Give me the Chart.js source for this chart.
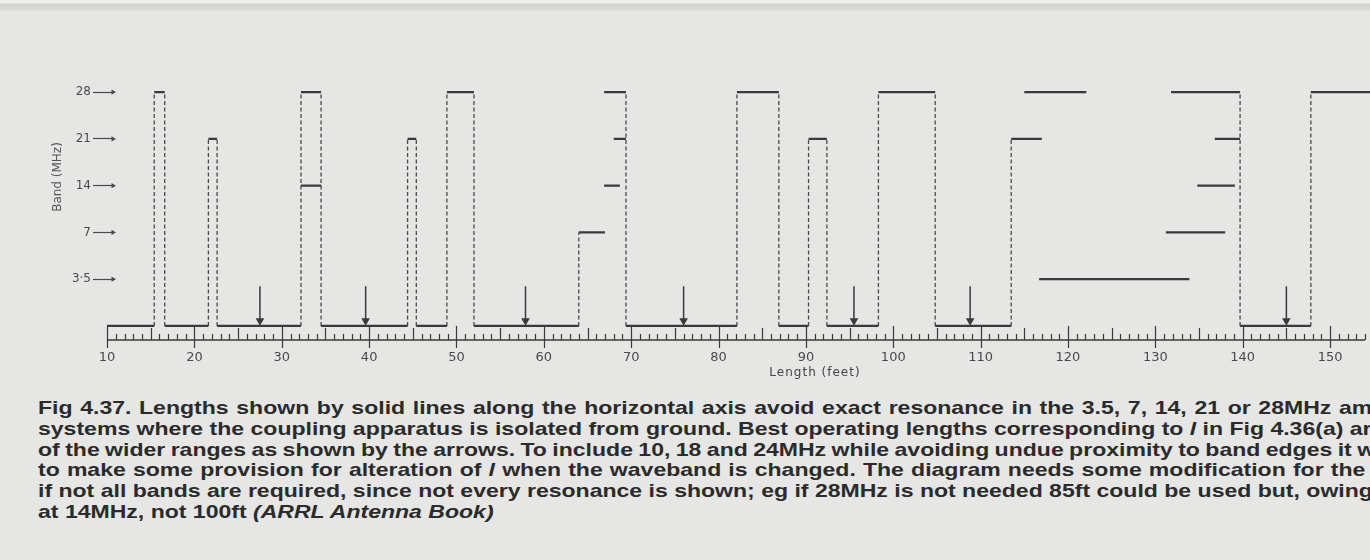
<!DOCTYPE html>
<html>
<head>
<meta charset="utf-8">
<script src="https://cdn.jsdelivr.net/npm/chart.js@4.4.1/dist/chart.umd.min.js"></script>
<style>
  html, body { margin: 0; padding: 0; }
  body { width: 1370px; height: 560px; background: #e6e6e4; overflow: hidden; position: relative; }
  #edge { position: absolute; left: 0; top: 0; width: 1370px; height: 11px;
          background: linear-gradient(#f0f0ee 0, #f0f0ee 3px, #d2d2ce 4px, #dadad6 10px, #e6e6e4 11px); }
  #wrap { position: absolute; left: 0; top: 0; width: 1370px; height: 390px; }
  #caption { position: absolute; left: 38px; top: 398px; width: 1400px;
             transform: scaleX(1.245); transform-origin: 0 0;
             font-family: "Liberation Sans", Arial, sans-serif; font-weight: bold; font-size: 18.5px;
             line-height: 20.8px; color: #2b2b2b; }
  #caption div { white-space: nowrap; }
</style>
</head>
<body>
<div id="edge"></div>
<div id="wrap"><canvas id="chart" width="1370" height="390"></canvas></div>
<div id="caption">
  <div style="word-spacing:1px">Fig 4.37. Lengths shown by solid lines along the horizontal axis avoid exact resonance in the 3.5, 7, 14, 21 or 28MHz amateur</div>
  <div>systems where the coupling apparatus is isolated from ground. Best operating lengths corresponding to <i>l</i> in Fig 4.36(a) are</div>
  <div style="word-spacing:-0.8px">of the wider ranges as shown by the arrows. To include 10, 18 and 24MHz while avoiding undue proximity to band edges it will</div>
  <div style="word-spacing:0.6px">to make some provision for alteration of <i>l</i> when the waveband is changed. The diagram needs some modification for the</div>
  <div>if not all bands are required, since not every resonance is shown; eg if 28MHz is not needed 85ft could be used but, owing</div>
  <div>at 14MHz, not 100ft <i>(ARRL Antenna Book)</i></div>
</div>
<script>
// bands on the vertical axis, drawn at equal steps 1..5
const bandLevels = [1, 2, 3, 4, 5];
const bandLabels = ['3·5', '7', '14', '21', '28'];
const xLabels = [10, 20, 30, 40, 50, 60, 70, 80, 90, 100, 110, 120, 130, 140, 150];
const xMin = 10.68, xMax = 154;

// solid horizontal runs: from (ft), to (ft), band level (0 = along the axis)
const segFrom  = [10, 16.6, 22.6, 34.5, 45.4, 52.0, 69.4, 86.9, 92.4, 104.8, 139.7,
                  15.4, 21.6, 32.2, 32.2, 44.4, 48.9, 64.0, 66.9, 68.0, 66.9, 82.1, 90.3, 98.3,
                  113.5, 115.0, 116.7, 131.2, 134.8, 136.8, 131.8, 147.8];
const segTo    = [15.4, 21.6, 32.2, 44.4, 48.9, 64.0, 82.1, 90.3, 98.3, 113.5, 147.8,
                  16.6, 22.6, 34.5, 34.5, 45.4, 52.0, 67.0, 68.7, 69.4, 69.4, 86.9, 92.4, 104.8,
                  117.0, 122.1, 133.9, 138.0, 139.1, 139.7, 139.7, 158];
const segLevel = [0, 0, 0, 0, 0, 0, 0, 0, 0, 0, 0,
                  5, 4, 5, 3, 4, 5, 2, 3, 4, 5, 5, 4, 5,
                  4, 5, 1, 2, 3, 4, 5, 5];

// dashed verticals: position (ft) and the level they reach
const dashX     = [15.4, 16.6, 21.6, 22.6, 32.2, 34.5, 44.4, 45.4, 48.9, 52.0, 64.0, 69.4,
                   82.1, 86.9, 90.3, 92.4, 98.3, 104.8, 113.5, 139.7, 147.8];
const dashLevel = [5, 5, 4, 4, 5, 5, 4, 4, 5, 5, 2, 5, 5, 5, 4, 4, 5, 5, 4, 5, 5];

// best operating lengths (arrows)
const arrowX = [27.5, 39.6, 57.9, 76.0, 95.5, 108.8, 145.0];
const arrowTop = 0.85;
const arrowHead = 0.11;

const ink = '#3a3a3a';

const solidPts = [];
segFrom.forEach((a, i) => {
  solidPts.push({x: a, y: segLevel[i]}, {x: segTo[i], y: segLevel[i]}, {x: segTo[i], y: null});
});
const dashPts = [];
dashX.forEach((x, i) => {
  dashPts.push({x: x, y: 0}, {x: x, y: dashLevel[i]}, {x: x, y: null});
});
const shaftPts = [];
arrowX.forEach(x => {
  shaftPts.push({x: x, y: arrowTop}, {x: x, y: arrowHead}, {x: x, y: null});
});
const headPts = arrowX.map(x => ({x: x, y: arrowHead}));
// small heads on the band tick arrows, at the left edge of the plot
const bandHeads = bandLevels.map(l => ({x: xMin, y: l}));

// ruler along the length axis, and the axis title
const ruler = {
  id: 'ruler',
  beforeDatasetsDraw(chart) {
    const {ctx, chartArea, scales} = chart;
    const xs = scales.x, ys = scales.y;
    const base = chartArea.bottom;
    const zero = ys.getPixelForValue(0);
    ctx.save();
    ctx.strokeStyle = ink;
    ctx.lineWidth = 1.6;
    ctx.beginPath();
    ctx.moveTo(xs.getPixelForValue(10), base);
    ctx.lineTo(chartArea.right, base);
    ctx.stroke();
    ctx.lineWidth = 1.2;
    for (let v = 10; v <= xs.max; v++) {
      const px = Math.round(xs.getPixelForValue(v)) + 0.5;
      ctx.beginPath();
      if (v % 10 === 0) { ctx.moveTo(px, zero); ctx.lineTo(px, base + 8); }
      else if (v % 5 === 0) { ctx.moveTo(px, zero + 2); ctx.lineTo(px, base); }
      else { ctx.moveTo(px, base - 6); ctx.lineTo(px, base); }
      ctx.stroke();
    }
    ctx.fillStyle = '#444';
    ctx.font = '12px "DejaVu Sans"';
    ctx.textAlign = 'center';
    ctx.textBaseline = 'middle';
    ctx.letterSpacing = '1px';
    ctx.fillText('Length (feet)', 815, 373);
    ctx.restore();
  }
};

new Chart(document.getElementById('chart'), {
  type: 'scatter',
  data: {
    datasets: [
      { data: solidPts, showLine: true, borderColor: ink, borderWidth: 2.2, pointRadius: 0, spanGaps: false, clip: false },
      { data: dashPts, showLine: true, borderColor: '#4a4a4a', borderWidth: 1.3, borderDash: [4, 2.5], pointRadius: 0, spanGaps: false },
      { data: shaftPts, showLine: true, borderColor: ink, borderWidth: 1.5, pointRadius: 0, spanGaps: false },
      { data: headPts, showLine: false, pointStyle: 'triangle', rotation: 180, pointRadius: 5,
        backgroundColor: ink, borderColor: ink, borderWidth: 0 },
      { data: bandHeads, showLine: false, pointStyle: 'triangle', rotation: 90, pointRadius: 3,
        backgroundColor: '#4a4a4a', borderWidth: 0, clip: false }
    ]
  },
  options: {
    responsive: false,
    animation: false,
    events: [],
    layout: { padding: { top: 14, right: 0, left: 0, bottom: 0 } },
    plugins: { legend: { display: false }, tooltip: { enabled: false } },
    scales: {
      x: {
        type: 'linear', min: xMin, max: xMax,
        grid: { display: false, drawTicks: false },
        border: { display: false },
        afterBuildTicks: s => { s.ticks = xLabels.map(v => ({value: v})); },
        afterFit: s => { s.height = 50; },
        ticks: { color: '#4a4a4a', font: { family: 'DejaVu Sans', size: 13 }, padding: 10, maxRotation: 0 }
      },
      y: {
        type: 'linear', min: -0.30, max: 6.67,
        grid: { display: true, drawOnChartArea: false, drawTicks: true, tickLength: 20,
                tickColor: '#4a4a4a', tickWidth: 1.2 },
        border: { display: false },
        afterBuildTicks: s => { s.ticks = bandLevels.map(v => ({value: v})); },
        afterFit: s => { s.width = 113; },
        ticks: {
          color: '#4a4a4a', font: { family: 'DejaVu Sans', size: 12 }, padding: 2,
          callback: v => bandLabels[bandLevels.indexOf(v)]
        },
        title: { display: true, text: 'Band (MHz)', color: '#555',
                 font: { family: 'DejaVu Sans', size: 12 }, padding: { top: 51, bottom: 0 } }
      }
    }
  },
  plugins: [ruler]
});
</script>
</body>
</html>
